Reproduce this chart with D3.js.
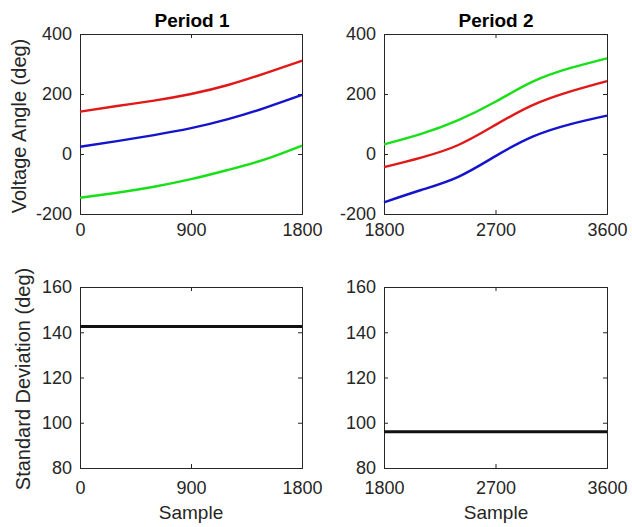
<!DOCTYPE html>
<html>
<head>
<meta charset="utf-8">
<script src="https://cdn.jsdelivr.net/npm/d3@7"></script>
<style>
  body { margin: 0; background: #fff; }
  text { font-family: "Liberation Sans", Arial, sans-serif; }
</style>
</head>
<body>
<div id="chart"></div>
<script>
var samples1 = [0, 300, 600, 900, 1200, 1500, 1800];
var samples2 = [1800, 2100, 2400, 2700, 3000, 3300, 3600];

// voltage angles (deg), period 1
var red1 = [141, 160, 178, 200, 230, 269, 311];
var blue1 = [24, 43, 63, 86, 116, 154, 197];
var green1 = [-146, -129, -109, -84, -53, -18, 28];

// voltage angles (deg), period 2
var red2 = [-44, -12, 30, 97, 163, 208, 243];
var blue2 = [-161, -120, -76, -7, 58, 99, 128];
var green2 = [32, 67, 113, 174, 241, 286, 319];

// standard deviation (deg)
var std1 = 142.5;
var std2 = 96;

var xTicks1 = [0, 900, 1800];
var xTicks2 = [1800, 2700, 3600];
var angleTicks = [-200, 0, 200, 400];
var stdTicks = [80, 100, 120, 140, 160];

var width = 632, height = 527;
var ink = '#262626';
var svg = d3.select('#chart').append('svg').attr('width', width).attr('height', height);

var colLeft = [80, 302], colRight = [384, 607];
var rowTop = [214, 34], rowBottom = [468, 287];

function panel(xr, yr, xDomain, yDomain, xTicks, yTicks, xPad) {
  var x = d3.scaleLinear().domain(xDomain).range(xr);
  var y = d3.scaleLinear().domain(yDomain).range(yr);
  var g = svg.append('g');
  var fmt = function(d) { return String(d); }; // plain hyphen for negatives

  // inward ticks like matlab, on all four sides
  g.append('g').attr('transform', 'translate(0,' + yr[0] + ')')
    .call(d3.axisBottom(x).tickValues(xTicks).tickSize(-4).tickPadding(xPad).tickFormat(fmt));
  g.append('g').attr('transform', 'translate(0,' + yr[1] + ')')
    .call(d3.axisTop(x).tickValues(xTicks).tickSize(-4).tickFormat(''));
  g.append('g').attr('transform', 'translate(' + xr[0] + ',0)')
    .call(d3.axisLeft(y).tickValues(yTicks).tickSize(-4).tickPadding(8).tickFormat(fmt));
  g.append('g').attr('transform', 'translate(' + xr[1] + ',0)')
    .call(d3.axisRight(y).tickValues(yTicks).tickSize(-4).tickFormat(''));

  g.selectAll('.domain').attr('stroke', ink);
  g.selectAll('.tick line').attr('stroke', ink);
  g.selectAll('.tick text')
    .attr('font-family', '"Liberation Sans", Arial, sans-serif')
    .attr('font-size', 18).attr('fill', ink);

  return { g: g, x: x, y: y };
}

function curve(p, xs, ys, color, w) {
  var line = d3.line()
    .x(function(d, i) { return p.x(xs[i]); })
    .y(function(d) { return p.y(d); })
    .curve(d3.curveNatural);
  p.g.append('path').datum(ys)
    .attr('d', line)
    .attr('fill', 'none')
    .attr('stroke', color)
    .attr('stroke-width', w || 2.4);
}

var red = '#e01818', blue = '#1414cc', green = '#18e018';

var p1 = panel(colLeft, rowTop, [0, 1800], [-200, 400], xTicks1, angleTicks, 9);
curve(p1, samples1, red1, red);
curve(p1, samples1, blue1, blue);
curve(p1, samples1, green1, green);

var p2 = panel(colRight, rowTop, [1800, 3600], [-200, 400], xTicks2, angleTicks, 9);
curve(p2, samples2, green2, green);
curve(p2, samples2, red2, red);
curve(p2, samples2, blue2, blue);

var p3 = panel(colLeft, rowBottom, [0, 1800], [80, 160], xTicks1, stdTicks, 13);
curve(p3, [0, 1800], [std1, std1], '#111', 3);

var p4 = panel(colRight, rowBottom, [1800, 3600], [80, 160], xTicks2, stdTicks, 13);
curve(p4, [1800, 3600], [std2, std2], '#111', 3);

// titles
svg.append('text').attr('x', 192).attr('y', 27).attr('text-anchor', 'middle')
  .attr('font-size', 19).attr('font-weight', 'bold').attr('fill', '#000').text('Period 1');
svg.append('text').attr('x', 496).attr('y', 27).attr('text-anchor', 'middle')
  .attr('font-size', 19).attr('font-weight', 'bold').attr('fill', '#000').text('Period 2');

// axis labels
svg.append('text').attr('transform', 'translate(26,126) rotate(-90)').attr('text-anchor', 'middle')
  .attr('font-size', 20).attr('fill', ink).text('Voltage Angle (deg)');
svg.append('text').attr('transform', 'translate(30,379) rotate(-90)').attr('text-anchor', 'middle')
  .attr('font-size', 20).attr('fill', ink).text('Standard Deviation (deg)');
svg.append('text').attr('x', 191).attr('y', 519).attr('text-anchor', 'middle')
  .attr('font-size', 19).attr('fill', ink).text('Sample');
svg.append('text').attr('x', 496).attr('y', 519).attr('text-anchor', 'middle')
  .attr('font-size', 19).attr('fill', ink).text('Sample');
</script>
</body>
</html>
